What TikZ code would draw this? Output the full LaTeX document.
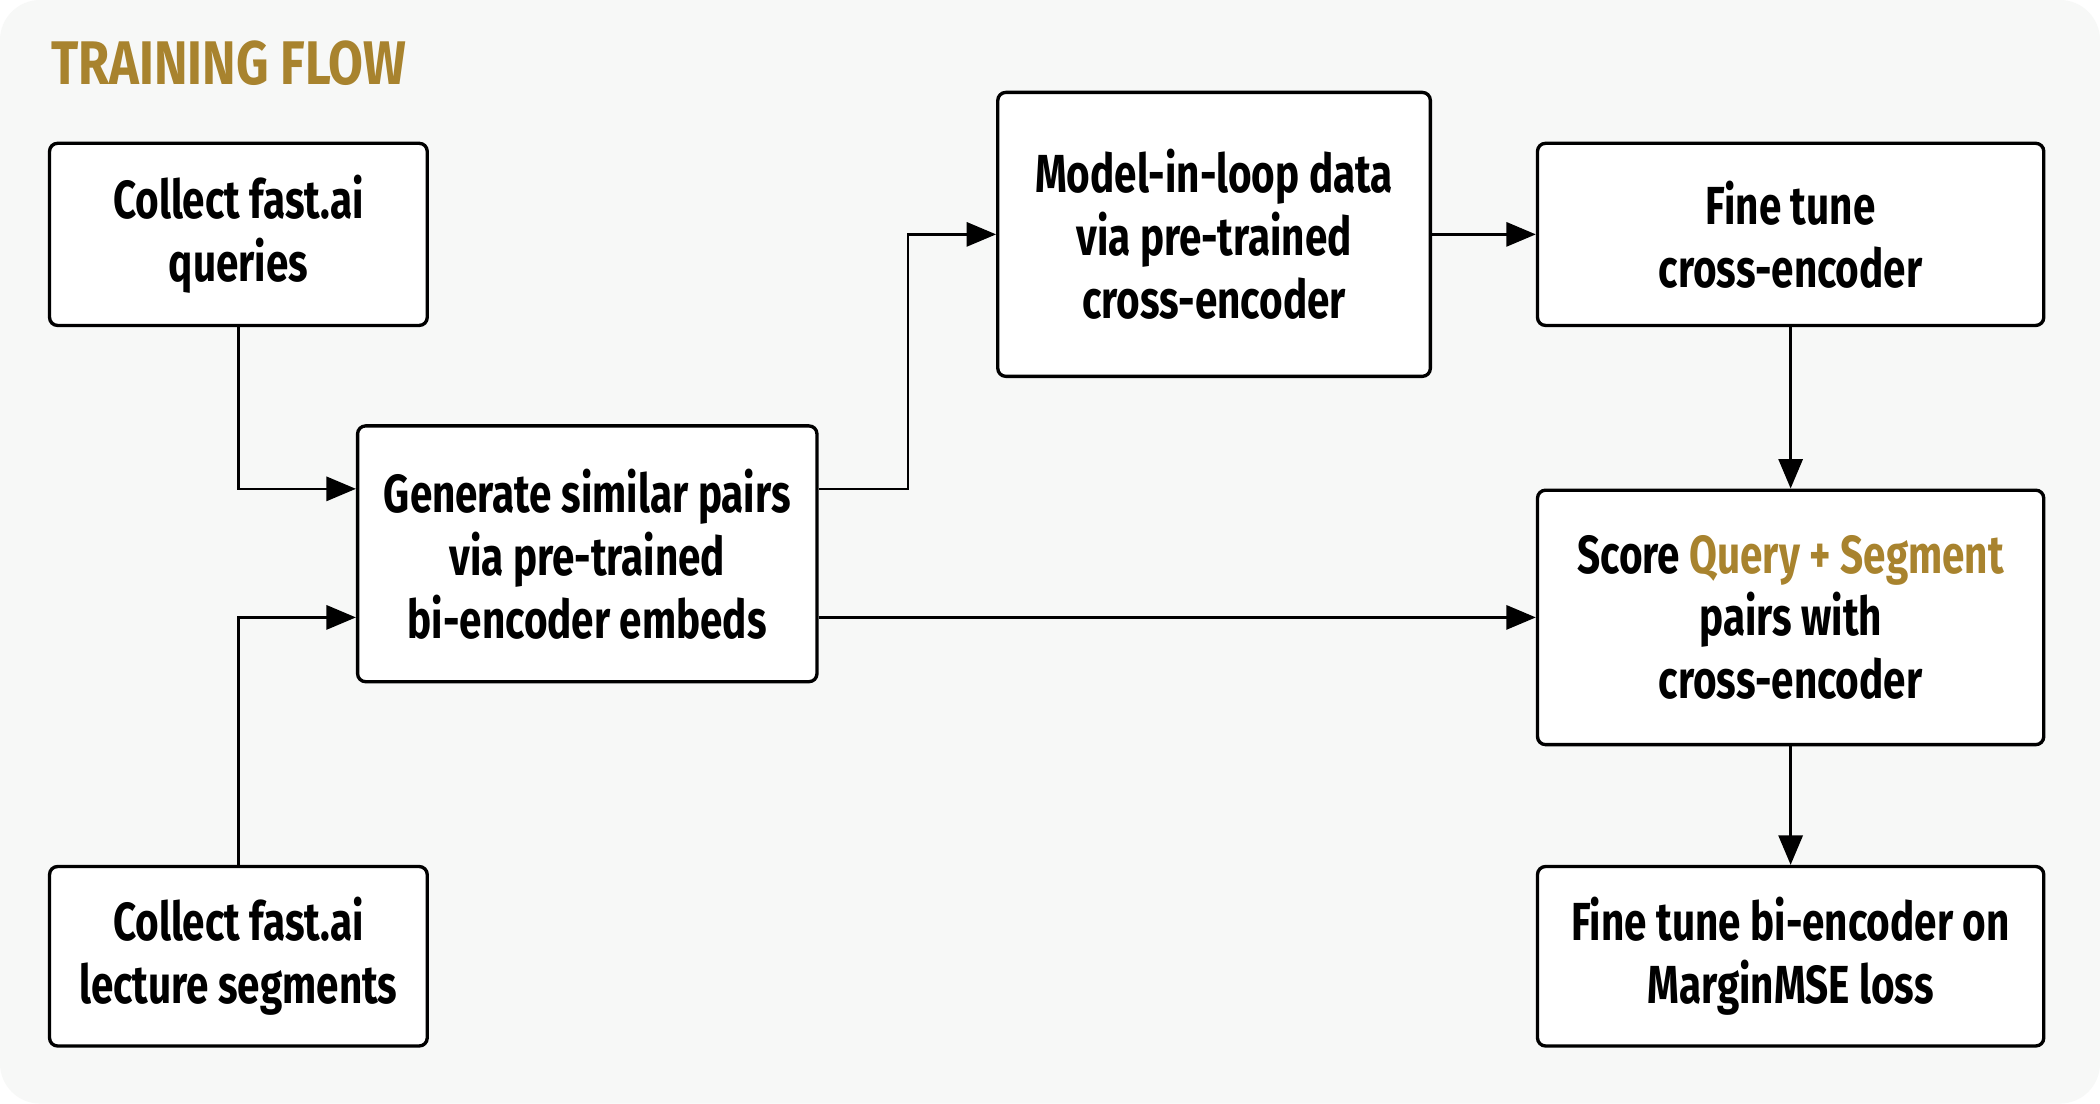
\documentclass[tikz,border=0pt]{standalone}
\usepackage{fontspec}
\usetikzlibrary{arrows.meta}
\newfontfamily\lblfont{Fira Sans}[FakeStretch=0.755]
\newfontfamily\ttlfont{Fira Sans}[FakeStretch=0.82]
\definecolor{bgc}{HTML}{F7F8F7}
\definecolor{goldc}{HTML}{A8832E}
\tikzset{
  box/.style={draw=black, line width=2.5pt, rounded corners=6pt, fill=white,
    align=center, inner sep=0pt, font=\lblfont\bfseries\fontsize{40}{47}\selectfont},
  conn/.style={line width=2pt, -{Triangle[length=22pt,width=18pt]}},
}
\begin{document}
\begin{tikzpicture}[x=1pt,y=-1pt]
\useasboundingbox (0,0) rectangle (1568,824);
\fill[white] (0,0) rectangle (1568,824);
\fill[bgc, rounded corners=30pt] (0,0) rectangle (1568,824);
\node[anchor=base west, text=goldc, inner sep=0pt, font=\ttlfont\bfseries\fontsize{46}{52}\selectfont] (title) at (38,63) {TRAINING FLOW};
\node[box, minimum width=282pt, minimum height=136pt] (q) at (178,175) {Collect fast.ai\\queries};
\node[box, minimum width=282pt, minimum height=134pt] (l) at (178,714) {Collect fast.ai\\lecture segments};
\node[box, minimum width=343pt, minimum height=191pt] (g) at (438.5,413.5) {Generate similar pairs\\via pre-trained\\bi-encoder embeds};
\node[box, minimum width=323pt, minimum height=212pt] (m) at (906.5,175) {Model-in-loop data\\via pre-trained\\cross-encoder};
\node[box, minimum width=378pt, minimum height=136pt] (fc) at (1337,175) {Fine tune\\cross-encoder};
\node[box, minimum width=378pt, minimum height=190pt] (s) at (1337,461) {Score \textcolor{goldc}{Query + Segment}\\pairs with\\cross-encoder};
\node[box, minimum width=378pt, minimum height=134pt] (fb) at (1337,714) {Fine tune bi-encoder on\\MarginMSE loss};
\coordinate (gin1) at ([yshift=48.5pt]g.west);
\coordinate (gin2) at ([yshift=-47.5pt]g.west);
\coordinate (gout1) at ([yshift=48.5pt]g.east);
\coordinate (gout2) at ([yshift=-47.5pt]g.east);
\draw[conn] (q.south) |- (gin1);
\draw[conn] (l.north) |- (gin2);
\draw[conn] (gout1) -| (678,175) -- (m.west);
\draw[conn] (m.east) -- (fc.west);
\draw[conn] (fc.south) -- (s.north);
\draw[conn] (gout2) -- (s.west |- gout2);
\draw[conn] (s.south) -- (fb.north);
\end{tikzpicture}
\end{document}
